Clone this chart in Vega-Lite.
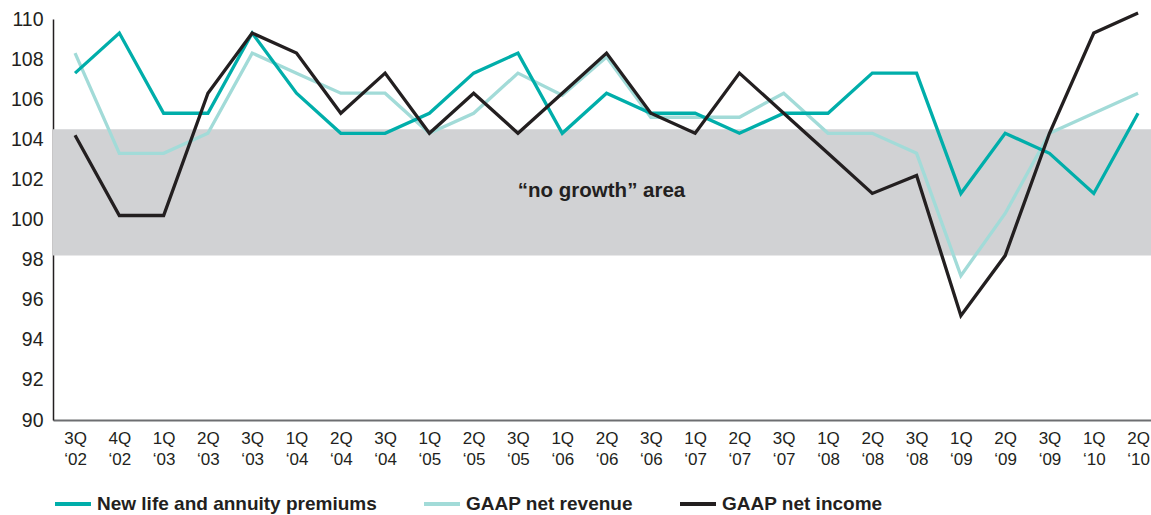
{
  "$schema": "https://vega.github.io/schema/vega-lite/v6.json",
  "width": 1098,
  "height": 401,
  "autosize": {"type": "none"},
  "padding": {"left": 53, "top": 19, "right": 0, "bottom": 95},
  "background": "white",
  "config": {
    "view": {"stroke": null},
    "font": "Liberation Sans",
    "axis": {"grid": false, "ticks": false, "title": null, "labelColor": "#231f20", "labelFont": "Liberation Sans"}
  },
  "datasets": {
    "growth": [
      {"q": "3Q ‘02", "series": "New life and annuity premiums", "v": 107.3},
      {"q": "4Q ‘02", "series": "New life and annuity premiums", "v": 109.3},
      {"q": "1Q ‘03", "series": "New life and annuity premiums", "v": 105.3},
      {"q": "2Q ‘03", "series": "New life and annuity premiums", "v": 105.3},
      {"q": "3Q ‘03", "series": "New life and annuity premiums", "v": 109.3},
      {"q": "1Q ‘04", "series": "New life and annuity premiums", "v": 106.3},
      {"q": "2Q ‘04", "series": "New life and annuity premiums", "v": 104.3},
      {"q": "3Q ‘04", "series": "New life and annuity premiums", "v": 104.3},
      {"q": "1Q ‘05", "series": "New life and annuity premiums", "v": 105.3},
      {"q": "2Q ‘05", "series": "New life and annuity premiums", "v": 107.3},
      {"q": "3Q ‘05", "series": "New life and annuity premiums", "v": 108.3},
      {"q": "1Q ‘06", "series": "New life and annuity premiums", "v": 104.3},
      {"q": "2Q ‘06", "series": "New life and annuity premiums", "v": 106.3},
      {"q": "3Q ‘06", "series": "New life and annuity premiums", "v": 105.3},
      {"q": "1Q ‘07", "series": "New life and annuity premiums", "v": 105.3},
      {"q": "2Q ‘07", "series": "New life and annuity premiums", "v": 104.3},
      {"q": "3Q ‘07", "series": "New life and annuity premiums", "v": 105.3},
      {"q": "1Q ‘08", "series": "New life and annuity premiums", "v": 105.3},
      {"q": "2Q ‘08", "series": "New life and annuity premiums", "v": 107.3},
      {"q": "3Q ‘08", "series": "New life and annuity premiums", "v": 107.3},
      {"q": "1Q ‘09", "series": "New life and annuity premiums", "v": 101.3},
      {"q": "2Q ‘09", "series": "New life and annuity premiums", "v": 104.3},
      {"q": "3Q ‘09", "series": "New life and annuity premiums", "v": 103.3},
      {"q": "1Q ‘10", "series": "New life and annuity premiums", "v": 101.3},
      {"q": "2Q ‘10", "series": "New life and annuity premiums", "v": 105.3},

      {"q": "3Q ‘02", "series": "GAAP net revenue", "v": 108.3},
      {"q": "4Q ‘02", "series": "GAAP net revenue", "v": 103.3},
      {"q": "1Q ‘03", "series": "GAAP net revenue", "v": 103.3},
      {"q": "2Q ‘03", "series": "GAAP net revenue", "v": 104.3},
      {"q": "3Q ‘03", "series": "GAAP net revenue", "v": 108.3},
      {"q": "1Q ‘04", "series": "GAAP net revenue", "v": 107.3},
      {"q": "2Q ‘04", "series": "GAAP net revenue", "v": 106.3},
      {"q": "3Q ‘04", "series": "GAAP net revenue", "v": 106.3},
      {"q": "1Q ‘05", "series": "GAAP net revenue", "v": 104.3},
      {"q": "2Q ‘05", "series": "GAAP net revenue", "v": 105.3},
      {"q": "3Q ‘05", "series": "GAAP net revenue", "v": 107.3},
      {"q": "1Q ‘06", "series": "GAAP net revenue", "v": 106.2},
      {"q": "2Q ‘06", "series": "GAAP net revenue", "v": 108.1},
      {"q": "3Q ‘06", "series": "GAAP net revenue", "v": 105.1},
      {"q": "1Q ‘07", "series": "GAAP net revenue", "v": 105.1},
      {"q": "2Q ‘07", "series": "GAAP net revenue", "v": 105.1},
      {"q": "3Q ‘07", "series": "GAAP net revenue", "v": 106.3},
      {"q": "1Q ‘08", "series": "GAAP net revenue", "v": 104.3},
      {"q": "2Q ‘08", "series": "GAAP net revenue", "v": 104.3},
      {"q": "3Q ‘08", "series": "GAAP net revenue", "v": 103.3},
      {"q": "1Q ‘09", "series": "GAAP net revenue", "v": 97.2},
      {"q": "2Q ‘09", "series": "GAAP net revenue", "v": 100.3},
      {"q": "3Q ‘09", "series": "GAAP net revenue", "v": 104.3},
      {"q": "1Q ‘10", "series": "GAAP net revenue", "v": 105.3},
      {"q": "2Q ‘10", "series": "GAAP net revenue", "v": 106.3},

      {"q": "3Q ‘02", "series": "GAAP net income", "v": 104.2},
      {"q": "4Q ‘02", "series": "GAAP net income", "v": 100.2},
      {"q": "1Q ‘03", "series": "GAAP net income", "v": 100.2},
      {"q": "2Q ‘03", "series": "GAAP net income", "v": 106.3},
      {"q": "3Q ‘03", "series": "GAAP net income", "v": 109.3},
      {"q": "1Q ‘04", "series": "GAAP net income", "v": 108.3},
      {"q": "2Q ‘04", "series": "GAAP net income", "v": 105.3},
      {"q": "3Q ‘04", "series": "GAAP net income", "v": 107.3},
      {"q": "1Q ‘05", "series": "GAAP net income", "v": 104.3},
      {"q": "2Q ‘05", "series": "GAAP net income", "v": 106.3},
      {"q": "3Q ‘05", "series": "GAAP net income", "v": 104.3},
      {"q": "1Q ‘06", "series": "GAAP net income", "v": 106.3},
      {"q": "2Q ‘06", "series": "GAAP net income", "v": 108.3},
      {"q": "3Q ‘06", "series": "GAAP net income", "v": 105.3},
      {"q": "1Q ‘07", "series": "GAAP net income", "v": 104.3},
      {"q": "2Q ‘07", "series": "GAAP net income", "v": 107.3},
      {"q": "3Q ‘07", "series": "GAAP net income", "v": 105.3},
      {"q": "1Q ‘08", "series": "GAAP net income", "v": 103.3},
      {"q": "2Q ‘08", "series": "GAAP net income", "v": 101.3},
      {"q": "3Q ‘08", "series": "GAAP net income", "v": 102.2},
      {"q": "1Q ‘09", "series": "GAAP net income", "v": 95.2},
      {"q": "2Q ‘09", "series": "GAAP net income", "v": 98.2},
      {"q": "3Q ‘09", "series": "GAAP net income", "v": 104.3},
      {"q": "1Q ‘10", "series": "GAAP net income", "v": 109.3},
      {"q": "2Q ‘10", "series": "GAAP net income", "v": 110.3}
    ],
    "band": [{"lo": 98.2, "hi": 104.5}],
    "note": [{"q": "2Q ‘06", "v": 101.4, "label": "“no growth” area"}]
  },
  "layer": [
    {
      "data": {"name": "band"},
      "mark": {"type": "rect", "color": "#d1d2d4"},
      "encoding": {
        "x": {"value": 0},
        "x2": {"value": "width"},
        "y": {"field": "hi", "type": "quantitative", "scale": {"domain": [90, 110], "nice": false, "zero": false}},
        "y2": {"field": "lo"}
      }
    },
    {
      "data": {"name": "note"},
      "mark": {"type": "text", "font": "Liberation Sans", "fontWeight": "bold", "fontSize": 20.5, "color": "#231f20", "align": "center", "baseline": "middle", "dx": -5},
      "encoding": {
        "x": {"field": "q", "type": "ordinal", "sort": null},
        "y": {"field": "v", "type": "quantitative"},
        "text": {"field": "label"}
      }
    },
    {
      "data": {"name": "growth"},
      "transform": [{"filter": "datum.series === 'GAAP net revenue'"}],
      "mark": {"type": "line", "strokeWidth": 3.3, "strokeJoin": "miter"},
      "encoding": {
        "x": {"field": "q", "type": "ordinal", "sort": null},
        "y": {"field": "v", "type": "quantitative"},
        "color": {"field": "series", "type": "nominal"}
      }
    },
    {
      "data": {"name": "growth"},
      "transform": [{"filter": "datum.series === 'New life and annuity premiums'"}],
      "mark": {"type": "line", "strokeWidth": 3.3, "strokeJoin": "miter"},
      "encoding": {
        "x": {"field": "q", "type": "ordinal", "sort": null},
        "y": {"field": "v", "type": "quantitative"},
        "color": {"field": "series", "type": "nominal"}
      }
    },
    {
      "data": {"name": "growth"},
      "transform": [{"filter": "datum.series === 'GAAP net income'"}],
      "mark": {"type": "line", "strokeWidth": 3.3, "strokeJoin": "miter"},
      "encoding": {
        "x": {"field": "q", "type": "ordinal", "sort": null},
        "y": {"field": "v", "type": "quantitative"},
        "color": {"field": "series", "type": "nominal"}
      }
    }
  ],
  "resolve": {"scale": {"x": "shared", "y": "shared", "color": "shared"}},
  "encoding": {
    "x": {
      "field": "q",
      "type": "ordinal",
      "sort": null,
      "scale": {
        "type": "point",
        "padding": 0.395,
        "align": 0.63,
        "domain": ["3Q ‘02", "4Q ‘02", "1Q ‘03", "2Q ‘03", "3Q ‘03", "1Q ‘04", "2Q ‘04", "3Q ‘04", "1Q ‘05", "2Q ‘05", "3Q ‘05", "1Q ‘06", "2Q ‘06", "3Q ‘06", "1Q ‘07", "2Q ‘07", "3Q ‘07", "1Q ‘08", "2Q ‘08", "3Q ‘08", "1Q ‘09", "2Q ‘09", "3Q ‘09", "1Q ‘10", "2Q ‘10"]
      },
      "axis": {
        "labelExpr": "split(datum.label, ' ')",
        "labelAngle": 0,
        "labelFontSize": 17,
        "labelPadding": 10,
        "labelLineHeight": 21,
        "labelBaseline": "top",
        "domainColor": "#6d6e71",
        "domainWidth": 2
      }
    },
    "y": {
      "type": "quantitative",
      "axis": {
        "values": [90, 92, 94, 96, 98, 100, 102, 104, 106, 108, 110],
        "labelFontSize": 19.5,
        "labelPadding": 10,
        "domainColor": "#231f20",
        "domainWidth": 1.5
      }
    },
    "color": {
      "type": "nominal",
      "scale": {
        "domain": ["New life and annuity premiums", "GAAP net revenue", "GAAP net income"],
        "range": ["#00aeaa", "#a2dbd8", "#231f20"]
      },
      "legend": {
        "title": null,
        "orient": "none",
        "legendX": 0,
        "legendY": 465,
        "direction": "horizontal",
        "padding": 0,
        "symbolType": "stroke",
        "symbolSize": 1296,
        "symbolStrokeWidth": 4,
        "labelFontSize": 19,
        "labelFontWeight": "bold",
        "labelColor": "#231f20",
        "labelOffset": 4,
        "labelLimit": 0,
        "columnPadding": 39
      }
    }
  }
}
